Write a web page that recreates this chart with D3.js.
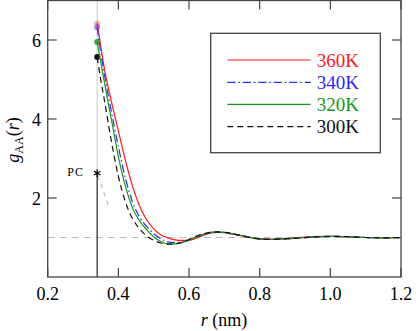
<!DOCTYPE html>
<html>
<head>
<meta charset="utf-8">
<script src="https://cdn.jsdelivr.net/npm/d3@7"></script>
<style>
  body { margin: 0; background: #fff; }
  svg { display: block; }
</style>
</head>
<body>
<div id="chart"></div>
<script>
// r grid (nm)
var rVals = [0.34, 0.35, 0.36, 0.38, 0.40, 0.42, 0.44, 0.46, 0.48, 0.50, 0.52, 0.54, 0.56, 0.58, 0.60,
             0.62, 0.64, 0.66, 0.68, 0.70, 0.72, 0.75, 0.78, 0.80, 0.83, 0.86, 0.90, 0.95, 1.00, 1.05,
             1.10, 1.15, 1.20];
var g360 = [6.42, 5.85, 5.30, 4.45, 3.70, 2.95, 2.30, 1.80, 1.45, 1.22, 1.07, 0.99, 0.94, 0.925, 0.93,
            0.98, 1.05, 1.11, 1.13, 1.12, 1.09, 1.04, 0.99, 0.97, 0.96, 0.97, 0.99, 1.02, 1.03, 1.02,
            1.00, 0.99, 1.00];
var g340 = [6.32, 5.70, 5.15, 4.20, 3.30, 2.50, 1.90, 1.52, 1.28, 1.10, 0.97, 0.89, 0.87, 0.89, 0.93,
            1.00, 1.07, 1.12, 1.14, 1.13, 1.10, 1.05, 0.99, 0.96, 0.95, 0.96, 0.98, 1.01, 1.03, 1.02,
            1.00, 0.99, 1.00];
var g320 = [5.95, 5.45, 4.95, 4.00, 3.05, 2.30, 1.75, 1.42, 1.20, 1.02, 0.90, 0.84, 0.84, 0.87, 0.93,
            1.01, 1.08, 1.13, 1.14, 1.13, 1.10, 1.05, 0.99, 0.96, 0.95, 0.96, 0.98, 1.01, 1.03, 1.02,
            1.00, 0.99, 1.00];
var g300 = [5.57, 5.00, 4.50, 3.45, 2.55, 1.90, 1.48, 1.22, 1.04, 0.93, 0.86, 0.83, 0.84, 0.88, 0.95,
            1.03, 1.09, 1.13, 1.14, 1.13, 1.10, 1.04, 0.98, 0.96, 0.95, 0.96, 0.98, 1.01, 1.03, 1.02,
            1.00, 0.99, 1.00];
var seriesNames = ["360K", "340K", "320K", "300K"];
var xTicks = [0.2, 0.4, 0.6, 0.8, 1.0, 1.2];
var yTicks = [2, 4, 6];
var pcR = 0.34, pcG = 2.63;
var pcLine = [[0.3415, 2.58], [0.3715, 1.82]];

var W = 416, H = 331;
var FONT = "'Liberation Serif', 'DejaVu Serif', 'Times New Roman', serif";
var svg = d3.select('#chart').append('svg').attr('width', W).attr('height', H)
  .attr('font-family', FONT).style('font-family', FONT);

var x = d3.scaleLinear().domain([0.2, 1.2]).range([47.7, 401]);
var y = d3.scaleLinear().domain([0, 7]).range([277, 0.5]);

var styles = [
  {c: '#ff1a1a', dash: null, dot: 0.35},
  {c: '#2a2aff', dash: '8,3,1.5,3', dot: 0.5},
  {c: '#1a961a', dash: null, dot: 0.85},
  {c: '#111111', dash: '6,4', dot: 1}
];
var data = [g360, g340, g320, g300];

// reference lines
svg.append('line')
  .attr('x1', x(0.2)).attr('x2', x(1.2)).attr('y1', y(1)).attr('y2', y(1))
  .attr('stroke', '#bbb').attr('stroke-width', 1.2).attr('stroke-dasharray', '7,5');
svg.append('line')
  .attr('x1', x(pcR)).attr('x2', x(pcR)).attr('y1', y(7)).attr('y2', y(pcG))
  .attr('stroke', '#c8c8c8').attr('stroke-width', 1);
svg.append('line')
  .attr('x1', x(pcR)).attr('x2', x(pcR)).attr('y1', y(pcG)).attr('y2', y(0))
  .attr('stroke', '#333').attr('stroke-width', 1.3);
svg.append('path')
  .attr('d', d3.line().x(d => x(d[0])).y(d => y(d[1]))(pcLine))
  .attr('stroke', '#bbb').attr('stroke-width', 1.1).attr('stroke-dasharray', '5,4').attr('fill', 'none');

// start dots
data.forEach(function(g, i) {
  svg.append('circle')
    .attr('cx', x(rVals[0])).attr('cy', y(g[0])).attr('r', 3)
    .attr('fill', styles[i].c).attr('opacity', styles[i].dot);
});

// curves
var line = d3.line().curve(d3.curveMonotoneX);
data.forEach(function(g, i) {
  svg.append('path')
    .attr('d', line(rVals.map((r, k) => [x(r), y(g[k])])))
    .attr('fill', 'none')
    .attr('stroke', styles[i].c)
    .attr('stroke-width', 1.2)
    .attr('stroke-dasharray', styles[i].dash);
});

// PC marker
svg.append('path')
  .attr('d', d3.symbol(d3.symbolAsterisk, 40)())
  .attr('transform', 'translate(' + x(pcR) + ',' + y(pcG) + ')')
  .attr('stroke', '#000').attr('stroke-width', 1.2).attr('fill', 'none');
svg.append('text')
  .attr('x', 84).attr('y', 176).attr('text-anchor', 'end')
  .attr('font-size', 12).attr('letter-spacing', 1)
  .text('PC');

// frame + ticks (all four sides, inward)
var axc = '#444';
svg.append('rect')
  .attr('x', x(0.2)).attr('y', y(7)).attr('width', x(1.2) - x(0.2)).attr('height', y(0) - y(7))
  .attr('fill', 'none').attr('stroke', axc).attr('stroke-width', 1.3);
xTicks.forEach(function(t) {
  svg.append('line').attr('x1', x(t)).attr('x2', x(t)).attr('y1', y(0)).attr('y2', y(0) - 9)
    .attr('stroke', axc).attr('stroke-width', 1.2);
  svg.append('line').attr('x1', x(t)).attr('x2', x(t)).attr('y1', y(7)).attr('y2', y(7) + 9)
    .attr('stroke', axc).attr('stroke-width', 1.2);
  svg.append('text').attr('x', x(t)).attr('y', 300).attr('text-anchor', 'middle')
    .attr('font-size', 18).text(t.toFixed(1));
});
yTicks.forEach(function(t) {
  svg.append('line').attr('x1', x(0.2)).attr('x2', x(0.2) + 9).attr('y1', y(t)).attr('y2', y(t))
    .attr('stroke', axc).attr('stroke-width', 1.2);
  svg.append('line').attr('x1', x(1.2)).attr('x2', x(1.2) - 9).attr('y1', y(t)).attr('y2', y(t))
    .attr('stroke', axc).attr('stroke-width', 1.2);
  svg.append('text').attr('x', 41).attr('y', y(t) + 6.5).attr('text-anchor', 'end')
    .attr('font-size', 18).text(t);
});

// axis labels
var xl = svg.append('text').attr('x', 224).attr('y', 326).attr('text-anchor', 'middle').attr('font-size', 18);
xl.append('tspan').attr('font-style', 'italic').text('r');
xl.append('tspan').text(' (nm)');

var yl = svg.append('text').attr('transform', 'translate(19,140) rotate(-90)')
  .attr('text-anchor', 'middle').attr('font-size', 18);
yl.append('tspan').attr('font-style', 'italic').text('g');
yl.append('tspan').attr('font-size', 12).attr('dy', 4).text('AA');
yl.append('tspan').attr('dy', -4).text('(');
yl.append('tspan').attr('font-style', 'italic').text('r');
yl.append('tspan').text(')');

// legend
svg.append('rect').attr('x', 210.7).attr('y', 33.3).attr('width', 169.6).attr('height', 119.4)
  .attr('fill', '#fff').attr('stroke', axc).attr('stroke-width', 1.3);
var legY = [60, 82.3, 104.3, 126.7];
seriesNames.forEach(function(n, i) {
  svg.append('line').attr('x1', 227.3).attr('x2', 310.7).attr('y1', legY[i]).attr('y2', legY[i])
    .attr('stroke', styles[i].c).attr('stroke-width', 1.2).attr('stroke-dasharray', styles[i].dash);
  svg.append('text').attr('x', 316.7).attr('y', legY[i] + 6.5).attr('font-size', 19)
    .attr('fill', styles[i].c).text(n);
});
</script>
</body>
</html>
